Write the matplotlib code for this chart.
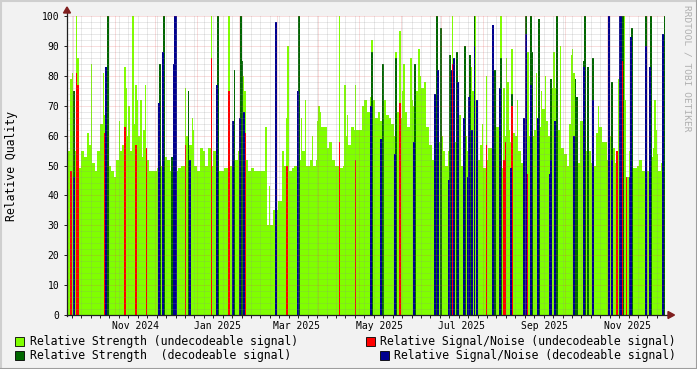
import numpy as np
import matplotlib
matplotlib.use("Agg")
import matplotlib.pyplot as plt
import matplotlib.dates as mdates
from matplotlib.patches import Rectangle, Polygon
from matplotlib.lines import Line2D

# ---- data ----
start_day = "2024-09-27"

# light green baseline: one value per 2 days from start_day
strength_undec = [
    55, 53, 55, 60, 49, 55, 53, 61, 57, 51,
    48, 55, 64, 67, 58, 50, 48, 46, 52, 55,
    57, 48, 60, 55, 64, 60, 60, 53, 62, 52,
    48, 48, 48, 49, 50, 55, 53, 52, 48, 48,
    48, 49, 50, 50, 60, 57, 62, 50, 48, 56,
    55, 50, 56, 50, 55, 62, 48, 48, 49, 49,
    50, 50, 52, 55, 60, 75, 52, 48, 49, 48,
    48, 48, 48, 63, 30, 30, 35, 35, 38, 38,
    50, 56, 48, 49, 50, 50, 52, 55, 50, 50,
    52, 50, 52, 68, 63, 63, 56, 58, 52, 50,
    50, 49, 50, 60, 57, 63, 62, 62, 62, 70,
    72, 68, 73, 72, 66, 68, 65, 72, 67, 66,
    64, 60, 68, 66, 75, 68, 63, 72, 70, 75,
    80, 76, 78, 63, 57, 52, 55, 58, 60, 55,
    50, 55, 60, 58, 60, 67, 50, 60, 55, 80,
    75, 57, 52, 57, 49, 52, 56, 56, 60, 63,
    55, 49, 60, 62, 58, 61, 60, 55, 51, 50,
    75, 60, 60, 62, 65, 63, 69, 65, 60, 76,
    76, 72, 62, 56, 54, 50, 64, 81, 60, 51,
    65, 67, 55, 55, 51, 50, 61, 63, 58, 58,
    52, 60, 56, 51, 60, 60, 55, 46, 55, 49,
    49, 50, 52, 48, 48, 48, 53, 56, 54, 48, 51,
]

# single-day peaks of the light green series (day offset, value)
peak_undec_day = [2, 3, 6, 7, 17, 26, 38, 42, 43, 45, 48, 50, 51, 54, 57, 87, 92,
                  106, 119, 130, 131, 149, 159, 162, 163, 173, 176, 181, 185, 186,
                  201, 205, 207, 213, 225, 243, 246, 249, 254, 260, 285, 299, 302,
                  307, 310, 321, 323, 325, 326, 329, 333, 341, 347, 351, 354, 360,
                  365, 373, 374, 383, 393, 403, 408, 412, 413, 435, 436]
peak_undec_val = [79, 81, 100, 86, 84, 81, 65, 83, 76, 70, 100, 77, 72, 72, 77, 76, 66,
                  100, 100, 80, 70, 43, 55, 66, 90, 66, 72, 60, 65, 70,
                  100, 77, 67, 77, 92, 88, 95, 84, 86, 89, 100, 83, 100,
                  64, 80, 100, 76, 86, 78, 89, 72, 88, 81, 75, 80, 88,
                  90, 87, 89, 79, 70, 72, 79, 100, 72, 72, 62]

strength_dec_day = [4, 29, 68, 71, 77, 89, 111, 123, 128, 129, 171, 225, 233, 243, 257,
                    273, 276, 283, 285, 288, 294, 298, 301, 316, 321, 329, 339, 343,
                    344, 349, 358, 362, 376, 377, 382, 383, 385, 389, 403, 411, 418,
                    428, 432, 442]
strength_dec_val = [75, 100, 84, 100, 53, 75, 100, 82, 100, 85, 100, 88, 84, 86, 84,
                    100, 96, 87, 81, 88, 90, 87, 100, 82, 86, 74, 100, 100,
                    88, 99, 79, 100, 79, 73, 85, 100, 83, 86, 78, 100, 96,
                    100, 100, 100]

snr_undec_day = [2, 6, 7, 27, 42, 50, 58, 87, 106, 119, 131, 162, 201, 213, 246, 285,
                 310, 323, 324, 329, 340, 407, 411, 414]
snr_undec_val = [48, 81, 77, 61, 63, 57, 56, 57, 86, 75, 61, 50, 58, 52, 71, 84,
                 57, 52, 58, 70, 47, 55, 85, 46]

snr_dec_day = [4, 28, 67, 70, 78, 79, 80, 90, 110, 122, 127, 130, 154, 170, 224, 232,
               242, 256, 272, 274, 282, 284, 286, 289, 293, 296, 297, 299, 301, 303,
               315, 320, 328, 338, 339, 343, 348, 357, 358, 361, 375, 382, 389, 401,
               403, 409, 410, 416, 417, 428, 431, 441]
snr_dec_val = [46, 83, 71, 88, 84, 100, 100, 52, 77, 65, 66, 68, 98, 75, 70, 59,
               54, 58, 74, 82, 45, 82, 86, 78, 66, 46, 73, 62, 90, 72,
               97, 76, 49, 66, 94, 77, 66, 47, 52, 65, 60, 83, 72, 100,
               52, 100, 100, 46, 93, 90, 83, 94]

labels = ["Relative Strength (undecodeable signal)",
          "Relative Strength  (decodeable signal)",
          "Relative Signal/Noise (undecodeable signal)",
          "Relative Signal/Noise (decodeable signal)"]

# ---- style ----
c_lg, c_dg, c_red, c_blue = "#80ff00", "#006600", "#ff0000", "#00008f"
grid_c = (0.56, 0.56, 0.56, 0.38)
mgrid_c = (0.87, 0.31, 0.31, 0.38)
mono = "DejaVu Sans Mono"
W, H = 697, 369
L, R, T, B = 67, 665, 16, 315

fig = plt.figure(figsize=(W / 100, H / 100), dpi=100, facecolor="#f2f2f2")
ax = fig.add_axes([L / W, 1 - B / H, (R - L) / W, (B - T) / H])
ax.set_facecolor("white")

t0 = mdates.date2num(np.datetime64(start_day))
n = len(strength_undec)
edges = t0 + 2 * np.arange(n + 1)
ax.stairs(strength_undec, edges, fill=True, color=c_lg, baseline=0, zorder=1)

ax.bar(t0 + np.array(peak_undec_day), peak_undec_val, width=1.1, align="edge",
       color=c_lg, linewidth=0, zorder=2)
ax.bar(t0 + np.array(strength_dec_day), strength_dec_val, width=1.3, align="edge",
       color=c_dg, linewidth=0, zorder=3)
ax.bar(t0 + np.array(snr_undec_day), snr_undec_val, width=1.1, align="edge",
       color=c_red, linewidth=0, zorder=4)
ax.bar(t0 + np.array(snr_dec_day), snr_dec_val, width=1.4, align="edge",
       color=c_blue, linewidth=0, zorder=5)

xmin, xmax = t0 - 0.5, t0 + 443
ax.set_xlim(xmin, xmax)
ax.set_ylim(0, 100)
ax.xaxis_date()

# grid on top of data, like rrdtool
dots = (0, (1, 1))
for x in mdates.WeekdayLocator(byweekday=mdates.MO).tick_values(mdates.num2date(xmin), mdates.num2date(xmax)):
    if xmin < x < xmax:
        ax.axvline(x, color=grid_c, lw=0.72, ls=dots, zorder=6)
for y in np.arange(2, 101, 2):
    if y % 10:
        ax.axhline(y, color=grid_c, lw=0.72, ls=dots, zorder=6)
for x in mdates.MonthLocator().tick_values(mdates.num2date(xmin), mdates.num2date(xmax)):
    if xmin < x < xmax:
        ax.axvline(x, color=mgrid_c, lw=0.72, ls=dots, zorder=7)
for y in np.arange(10, 101, 10):
    ax.axhline(y, color=mgrid_c, lw=0.72, ls=dots, zorder=7)

for s in ax.spines.values():
    s.set_visible(False)

ax.xaxis.set_major_locator(mdates.MonthLocator(bymonth=(1, 3, 5, 7, 9, 11), bymonthday=16))
ax.xaxis.set_major_formatter(mdates.DateFormatter("%b %Y"))
ax.xaxis.set_minor_locator(mdates.WeekdayLocator(byweekday=mdates.MO))
ax.tick_params(axis="x", which="major", length=0, pad=4, labelsize=7)
ax.tick_params(axis="x", which="minor", length=2, width=0.7, color="#1f1f1f")
ax.set_yticks(np.arange(0, 101, 10))
ax.tick_params(axis="y", length=2.5, width=0.7, color="#1f1f1f", pad=3, labelsize=7)
for lab in ax.get_xticklabels() + ax.get_yticklabels():
    lab.set_fontfamily(mono)

# axes with arrows
def px(x, y):
    return ((x - L) / (R - L), (B - y) / (B - T))

ax.add_line(Line2D(*zip(px(L, B), px(669, B)), color="#1f1f1f", lw=0.9,
                   transform=ax.transAxes, clip_on=False, zorder=8))
ax.add_line(Line2D(*zip(px(L, B + 1), px(L, 11)), color="#1f1f1f", lw=0.9,
                   transform=ax.transAxes, clip_on=False, zorder=8))
ax.add_patch(Polygon([px(668, 311.5), px(668, 318.5), px(674.5, 315)], closed=True,
                     color="#801f1f", transform=ax.transAxes, clip_on=False, zorder=9))
ax.add_patch(Polygon([px(63.5, 13), px(70.5, 13), px(67, 7)], closed=True,
                     color="#801f1f", transform=ax.transAxes, clip_on=False, zorder=9))

def fpx(x, y):
    return (x / W, 1 - y / H)

fig.text(*fpx(12, 165.5), "Relative Quality", rotation=90, ha="center", va="center",
         fontsize=8.3, family=mono)
fig.text(*fpx(687, 5), "RRDTOOL / TOBI OETIKER", rotation=270, ha="center", va="top",
         fontsize=6.8, family=mono, color="#b0b0b0")

# legend
legend_spots = [(15, 337, 30), (15, 351, 30), (366, 337, 380), (380, 351, 394)]
for (sx, sy, tx), col, lab in zip(legend_spots, [c_lg, c_dg, c_red, c_blue], labels):
    fig.patches.append(Rectangle(fpx(sx, sy + 8.5), 8.5 / W, 8.5 / H, transform=fig.transFigure,
                                 facecolor=col, edgecolor="black", lw=0.6))
    fig.text(*fpx(tx, sy + 4.5), lab, ha="left", va="center", fontsize=8.3, family=mono)

# 3d-ish frame
fig.add_artist(Line2D([0, 1], [1 - 0.5 / H, 1 - 0.5 / H], color="#cfcfcf", lw=1.5, transform=fig.transFigure))
fig.add_artist(Line2D([0.5 / W, 0.5 / W], [0, 1], color="#cfcfcf", lw=1.5, transform=fig.transFigure))
fig.add_artist(Line2D([0, 1], [0.5 / H, 0.5 / H], color="#9e9e9e", lw=1.5, transform=fig.transFigure))
fig.add_artist(Line2D([1 - 0.5 / W, 1 - 0.5 / W], [0, 1], color="#9e9e9e", lw=1.5, transform=fig.transFigure))

fig.savefig("out.png", dpi=100, facecolor=fig.get_facecolor())
